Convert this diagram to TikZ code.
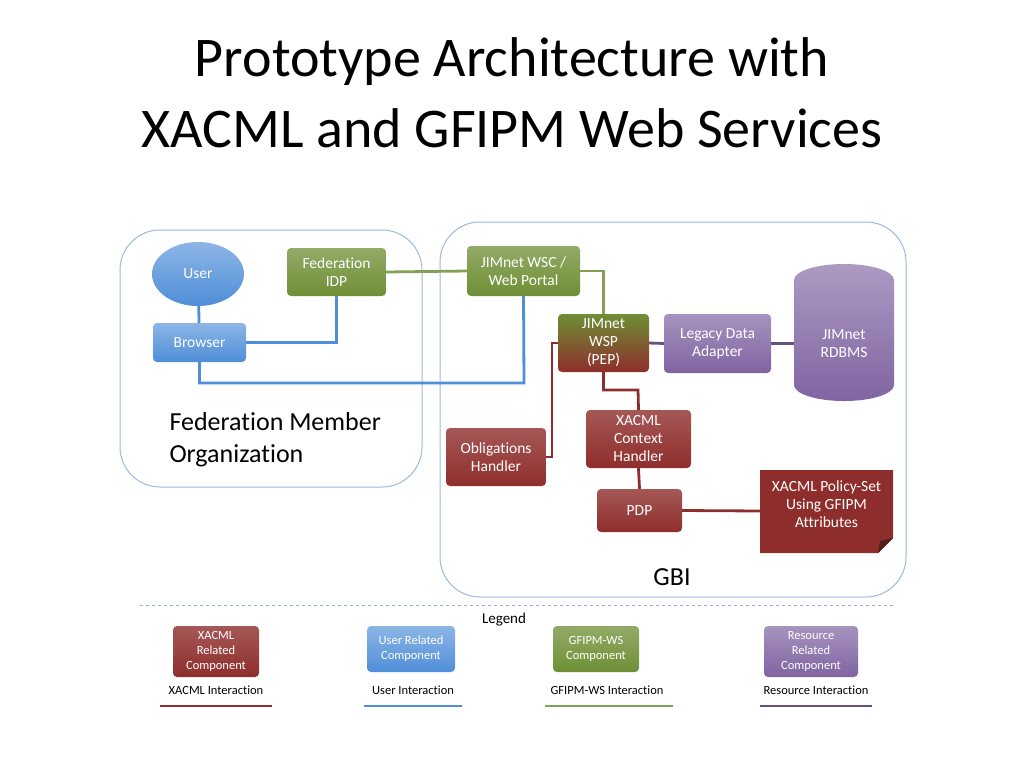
\documentclass[tikz,border=0pt]{standalone}
\usepackage{fontspec}
\setmainfont{Carlito}[Ligatures=NoCommon]
\usetikzlibrary{shapes.geometric}
\definecolor{gr}{HTML}{6E8F35}
\definecolor{rd}{HTML}{8E2E2C}
\definecolor{bl}{HTML}{4F8ED8}
\definecolor{pu}{HTML}{8064A2}
\definecolor{frame}{HTML}{9DB9DD}
\tikzset{x=1pt,y=-1pt,
 comp/.style={draw=none,rounded corners=4pt,text=white,align=center,font=\fontsize{15.5}{18}\selectfont,inner sep=1pt},
 G/.style={comp,top color=gr!75!white,bottom color=gr},
 R/.style={comp,top color=rd!80!white,bottom color=rd},
 B/.style={comp,top color=bl!65!white,bottom color=bl},
 P/.style={comp,top color=pu!70!white,bottom color=pu},
 lg/.style={line width=2.8pt,draw=gr!85!white},
 lr/.style={line width=2.8pt,draw=rd},
 lb/.style={line width=2.8pt,draw=bl},
 lp/.style={line width=2.8pt,draw=pu!80!black},
 area/.style={draw=frame,line width=1pt,rounded corners=40pt},
 leg/.style={font=\fontsize{12.5}{14}\selectfont},
 legc/.style={font=\fontsize{12.5}{15}\selectfont}}
\begin{document}
\begin{tikzpicture}
\useasboundingbox (0,0) rectangle (1024,768);
\node[font=\fontsize{56}{66}\selectfont] (t1) at (512,62) {Prototype Architecture with};
\node[font=\fontsize{56}{66}\selectfont] (t2) at (512,128) {XACML and GFIPM Web Services};
\draw[area] (120,230) rectangle (422,487);
\draw[area] (440,222) rectangle (906,597);
\node[anchor=west,align=left,font=\fontsize{26}{32}\selectfont] (fmo) at (166,440) {Federation Member\\Organization};
\node[font=\fontsize{26}{28}\selectfont] (gbi) at (672,577) {GBI};
% components
\node[ellipse,comp,minimum width=92pt,minimum height=64pt,top color=bl!65!white,bottom color=bl] (user) at (198,274) {User};
\node[B,minimum width=93pt,minimum height=39pt] (br) at (199.5,342.5) {Browser};
\node[G,minimum width=99pt,minimum height=48pt] (idp) at (336.5,272) {Federation\\IDP};
\node[G,minimum width=113pt,minimum height=50pt] (wsc) at (523.5,271) {JIMnet WSC /\\Web Portal};
\node[comp,minimum width=91pt,minimum height=58pt,top color=gr,bottom color=rd] (wsp) at (603.5,343) {JIMnet\\WSP\\(PEP)};
\node[P,minimum width=107pt,minimum height=59pt] (lda) at (717.5,343.5) {Legacy Data\\Adapter};
\node[cylinder,shape border rotate=90,aspect=0.6,minimum width=100pt,minimum height=137pt,top color=pu!65!white,bottom color=pu,draw=none,text=white,align=center,font=\fontsize{15.5}{18}\selectfont] (db) at (844,343.5) {JIMnet\\RDBMS};
\node[R,minimum width=100pt,minimum height=58pt] (obl) at (496,457) {Obligations\\Handler};
\node[R,minimum width=105pt,minimum height=58pt] (ctx) at (638.5,439) {XACML\\Context\\Handler};
\node[R,minimum width=85pt,minimum height=43pt] (pdp) at (639.5,510.5) {PDP};
\fill[rd] (760,470) -- (893,470) -- (893,538) -- (878,553) -- (760,553) -- cycle;
\fill[rd!60!black] (893,538) -- (880,541) -- (878,553) -- cycle;
\node[text=white,align=center,font=\fontsize{15.5}{18}\selectfont] (pol) at (826.5,504) {XACML Policy-Set\\Using GFIPM\\Attributes};
\coordinate (polL) at (760,511);
% connectors
\draw[lb] (user) -- (br);
\draw[lb] (br.east) -| (idp.south);
\draw[lb] (br.south) |- (524,383) -- (wsc.south);
\draw[lg] (idp.east) -- (wsc.west);
\draw[lg] (wsc.east) -| (wsp.north);
\draw[lp] (wsp.east) -- (lda.west);
\draw[lp] (lda.east) -- (db.west);
\draw[lr] (obl.east) -- (552,457) |- (wsp.west);
\draw[lr] (wsp.south) |- (638,390) -- (ctx.north);
\draw[lr] (ctx.south) -- (pdp.north);
\draw[lr] (pdp.east) -- (polL);
% legend
\draw[frame!90!gray,dashed,line width=1pt] (140,605) -- (893,605);
\node[font=\fontsize{15}{16}\selectfont] (lgt) at (504,620) {Legend};
\node[R,minimum width=86pt,minimum height=51pt,legc] (l1) at (216,651.5) {XACML\\Related\\Component};
\node[B,minimum width=88pt,minimum height=46pt,legc] (l2) at (411,649) {User Related\\Component};
\node[G,minimum width=86pt,minimum height=46pt,legc] (l3) at (596,649) {GFIPM-WS\\Component};
\node[P,minimum width=94pt,minimum height=51pt,legc] (l4) at (811,651.5) {Resource\\Related\\Component};
\node[leg] (i1) at (216,690) {XACML Interaction};
\node[leg] (i2) at (413,690) {User Interaction};
\node[leg] (i3) at (607,690) {GFIPM-WS Interaction};
\node[leg] (i4) at (816,690) {Resource Interaction};
\coordinate (a1) at (160,706); \coordinate (b1) at (272,706);
\coordinate (a2) at (364,706); \coordinate (b2) at (462,706);
\coordinate (a3) at (545,706); \coordinate (b3) at (673,706);
\coordinate (a4) at (760,706); \coordinate (b4) at (872,706);
\draw[lr] (a1) -- (b1); \draw[lb] (a2) -- (b2); \draw[lg] (a3) -- (b3); \draw[lp] (a4) -- (b4);
\end{tikzpicture}
\end{document}
